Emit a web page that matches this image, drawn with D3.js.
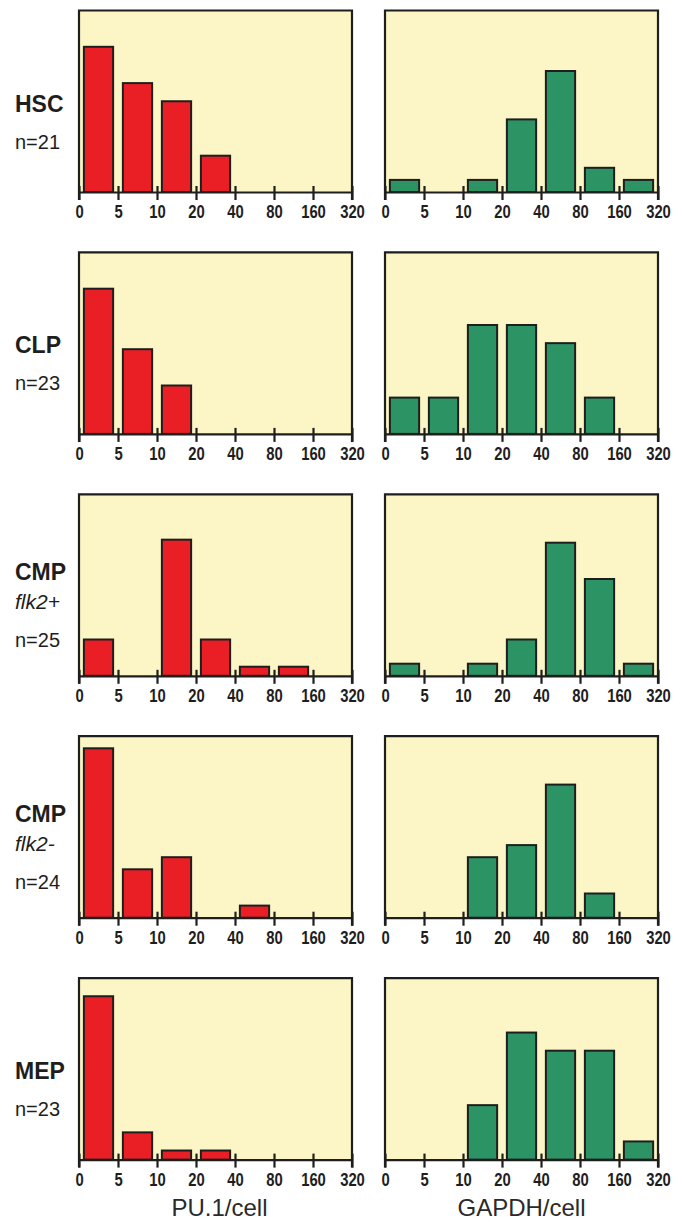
<!DOCTYPE html>
<html>
<head>
<meta charset="utf-8">
<script src="https://cdn.jsdelivr.net/npm/d3@7"></script>
<style>
  html, body { margin: 0; padding: 0; background: #fff; }
  svg { display: block; }
</style>
</head>
<body>
<svg id="chart" width="684" height="1222"></svg>
<script>
// bins of transcripts per cell, tick labels at the bin edges
const bins = ["0-5", "5-10", "10-20", "20-40", "40-80", "80-160", "160-320"];
const tickLabels = ["0", "5", "10", "20", "40", "80", "160", "320"];

// one row per population
const populations = ["HSC", "CLP", "CMP", "CMP", "MEP"];
const subtypes = ["", "", "flk2+", "flk2-", ""];
const cellCounts = [21, 23, 25, 24, 23];

// number of cells per bin
const pu1Counts = [
  [8, 6, 5, 2, 0, 0, 0],
  [12, 7, 4, 0, 0, 0, 0],
  [4, 0, 15, 4, 1, 1, 0],
  [14, 4, 5, 0, 1, 0, 0],
  [18, 3, 1, 1, 0, 0, 0]
];
const gapdhCounts = [
  [1, 0, 1, 6, 10, 2, 1],
  [2, 2, 6, 6, 5, 2, 0],
  [1, 0, 1, 3, 11, 8, 1],
  [0, 0, 5, 6, 11, 2, 0],
  [0, 0, 3, 7, 6, 6, 1]
];
// y-axis top of each panel (unlabelled in the figure)
const pu1Max = [10, 15, 20, 15, 20];
const gapdhMax = [15, 10, 15, 15, 10];

const axisTitles = ["PU.1/cell", "GAPDH/cell"];

const svg = d3.select("#chart");

const panelW = 273;
const panelH = 181.5;
const rowTop = 10.5;
const rowStep = 241.9;
const colLeft = [79, 385];
const panelBg = "#FCF6C6";
const ink = "#1e1e1e";
const barColors = ["#EA1F26", "#2C9464"];
const labelFont = "'Liberation Sans', Arial, Helvetica, sans-serif";

const x = d3.scaleBand().domain(bins).range([0, panelW]).paddingInner(0.25).paddingOuter(0.125);
const xTicks = d3.scalePoint().domain(tickLabels).range([0, panelW]);

function drawPanel(g, counts, yMax, color) {
  const y = d3.scaleLinear().domain([0, yMax]).range([panelH, 0]);

  g.append("rect")
    .attr("width", panelW)
    .attr("height", panelH)
    .attr("fill", panelBg);

  g.selectAll("rect.bar")
    .data(counts.map((c, i) => ({ bin: bins[i], count: c })).filter(d => d.count > 0))
    .join("rect")
    .attr("class", "bar")
    .attr("x", d => x(d.bin))
    .attr("y", d => y(d.count))
    .attr("width", x.bandwidth())
    .attr("height", d => panelH - y(d.count))
    .attr("fill", color)
    .attr("stroke", ink)
    .attr("stroke-width", 2);

  // frame: left, top, right sides running down to the tick ends
  g.append("path")
    .attr("d", `M0,${panelH + 8}V0H${panelW}V${panelH + 8}`)
    .attr("fill", "none")
    .attr("stroke", ink)
    .attr("stroke-width", 2.2);

  const axis = g.append("g")
    .attr("transform", `translate(0,${panelH})`)
    .call(d3.axisBottom(xTicks).tickSize(8).tickSizeOuter(0).tickPadding(5));

  axis.select(".domain").attr("stroke", ink).attr("stroke-width", 2.2);
  axis.selectAll(".tick line")
    .attr("y1", -6)
    .attr("y2", 8)
    .attr("stroke", ink)
    .attr("stroke-width", 2.2);
  // condensed bold digits, squeezed horizontally
  axis.selectAll(".tick text")
    .attr("fill", ink)
    .attr("font-family", labelFont)
    .attr("font-weight", "bold")
    .attr("font-size", 19)
    .attr("transform", "scale(0.78,1)");
}

populations.forEach((pop, i) => {
  const top = rowTop + i * rowStep;

  drawPanel(svg.append("g").attr("transform", `translate(${colLeft[0]},${top})`),
    pu1Counts[i], pu1Max[i], barColors[0]);
  drawPanel(svg.append("g").attr("transform", `translate(${colLeft[1]},${top})`),
    gapdhCounts[i], gapdhMax[i], barColors[1]);

  // row label
  const lab = svg.append("g")
    .attr("transform", `translate(15,${top})`)
    .attr("fill", ink)
    .attr("font-family", labelFont);
  const hasSub = subtypes[i] !== "";
  lab.append("text")
    .attr("y", hasSub ? 86 : 101)
    .attr("font-size", 23)
    .attr("font-weight", "bold")
    .text(pop);
  if (hasSub) {
    lab.append("text")
      .attr("y", 115)
      .attr("font-size", 21)
      .attr("font-style", "italic")
      .text(subtypes[i]);
  }
  lab.append("text")
    .attr("y", hasSub ? 153 : 138)
    .attr("font-size", 20)
    .text(`n=${cellCounts[i]}`);
});

// axis titles under the bottom row
axisTitles.forEach((t, j) => {
  svg.append("text")
    .attr("x", colLeft[j] + panelW / 2 + (j === 0 ? 4 : 0))
    .attr("y", 1216)
    .attr("text-anchor", "middle")
    .attr("font-family", labelFont)
    .attr("font-size", 24)
    .attr("fill", "#2a2a2a")
    .text(t);
});
</script>
</body>
</html>
